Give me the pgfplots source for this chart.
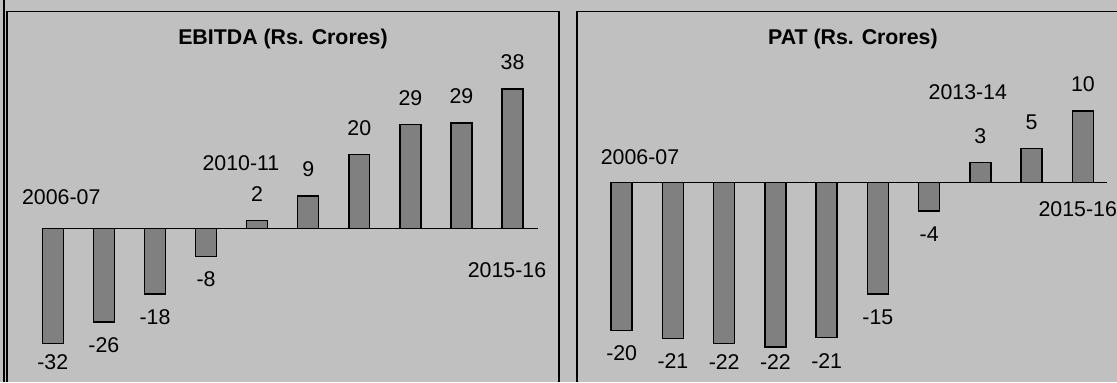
\documentclass[border=0pt]{standalone}
\usepackage{pgfplots}
\pgfplotsset{compat=1.18}
\usepackage{fontspec}
\setmainfont{Liberation Sans}
\definecolor{bgc}{HTML}{C0C0C0}
\definecolor{barc}{HTML}{808080}
\newcommand{\lab}{\fontsize{16}{19}\selectfont}

\pgfplotsset{
  panel/.style={
    scale only axis, width=414pt, height=278.25pt, anchor=south west,
    axis lines=none, clip=false,
    /pgf/number format/assume math mode=true,
  },
}

\begin{document}
\begin{tikzpicture}
\useasboundingbox (0,0) rectangle (837.75pt,286.5pt);
\fill[bgc] (0,0) rectangle (837.75pt,286.5pt);
\begin{scope}
\clip (0,0) rectangle (837.75pt,286.5pt);
% ---------------- EBITDA ----------------
\begin{axis}[panel, at={(5.25pt,0pt)}, xmin=-0.8966, xmax=9.910, ymin=-42.39, ymax=59.93]
\addplot[black, line width=0.8pt, sharp plot, mark=none] coordinates {(-0.217,0) (9.493,0)};
\addplot[ybar, bar width=0.41, fill=barc, draw=black, line width=1.1pt,
  nodes near coords={\pgfmathprintnumber[fixed,precision=0]{\pgfplotspointmeta}},
  visualization depends on={rawy \as \ry},
  every node near coord/.append style={anchor=center, font=\lab, inner sep=0pt, text=black,
    yshift={ifthenelse(\ry>0,19.9,-0.75*min(23,133.7+\ry*3.626))}}
] coordinates {(0,-31.8) (1,-25.8) (2,-18.1) (3,-7.8) (4,2.2) (5,8.9) (6,20.3) (7,28.6) (8,29.1) (9,38.4)};
\node[font=\lab] at (axis cs:0.166,8.71) {2006-07};
\node[font=\lab] at (axis cs:3.684,17.93) {2010-11};
\node[font=\lab] at (axis cs:8.892,-11.5) {2015-16};
\node[font=\lab\bfseries] at (axis cs:4.506,52.1) {EBITDA (Rs. Crores)};
\end{axis}
% ---------------- PAT ----------------
\begin{axis}[panel, at={(432.75pt,0pt)}, xmin=-0.872, xmax=9.900, ymin=-27.13, ymax=23.27]
\addplot[black, line width=0.8pt, sharp plot, mark=none] coordinates {(-0.228,0) (9.468,0)};
\addplot[ybar, bar width=0.41, fill=barc, draw=black, line width=1.1pt,
  nodes near coords={\pgfmathprintnumber[fixed,precision=0]{\pgfplotspointmeta}},
  visualization depends on={rawy \as \ry},
  every node near coord/.append style={anchor=center, font=\lab, inner sep=0pt, text=black,
    yshift={ifthenelse(\ry>0,19.9,-0.75*min(23,179.7+\ry*7.36))}}
] coordinates {(0,-20.1) (1,-21.2) (2,-21.9) (3,-22.4) (4,-21.1) (5,-15.2) (6,-3.9) (7,2.7) (8,4.6) (9,9.7)};
\node[font=\lab] at (axis cs:0.357,3.40) {2006-07};
\node[font=\lab] at (axis cs:6.755,12.27) {2013-14};
\node[font=\lab] at (axis cs:8.90,-3.67) {2015-16};
\node[font=\lab\bfseries] at (axis cs:4.512,19.47) {PAT (Rs. Crores)};
\end{axis}
% panel frames
\draw[line width=1pt] (5.25pt,0pt) -- (5.25pt,278.1pt) -- (419.25pt,278.1pt) -- (419.25pt,0pt);
\draw[line width=1pt] (432.75pt,0pt) -- (432.75pt,278.1pt) -- (840pt,278.1pt);
\draw[line width=1.5pt] (2.78pt,0pt) -- (2.78pt,290pt);
\end{scope}
\end{tikzpicture}
\end{document}
